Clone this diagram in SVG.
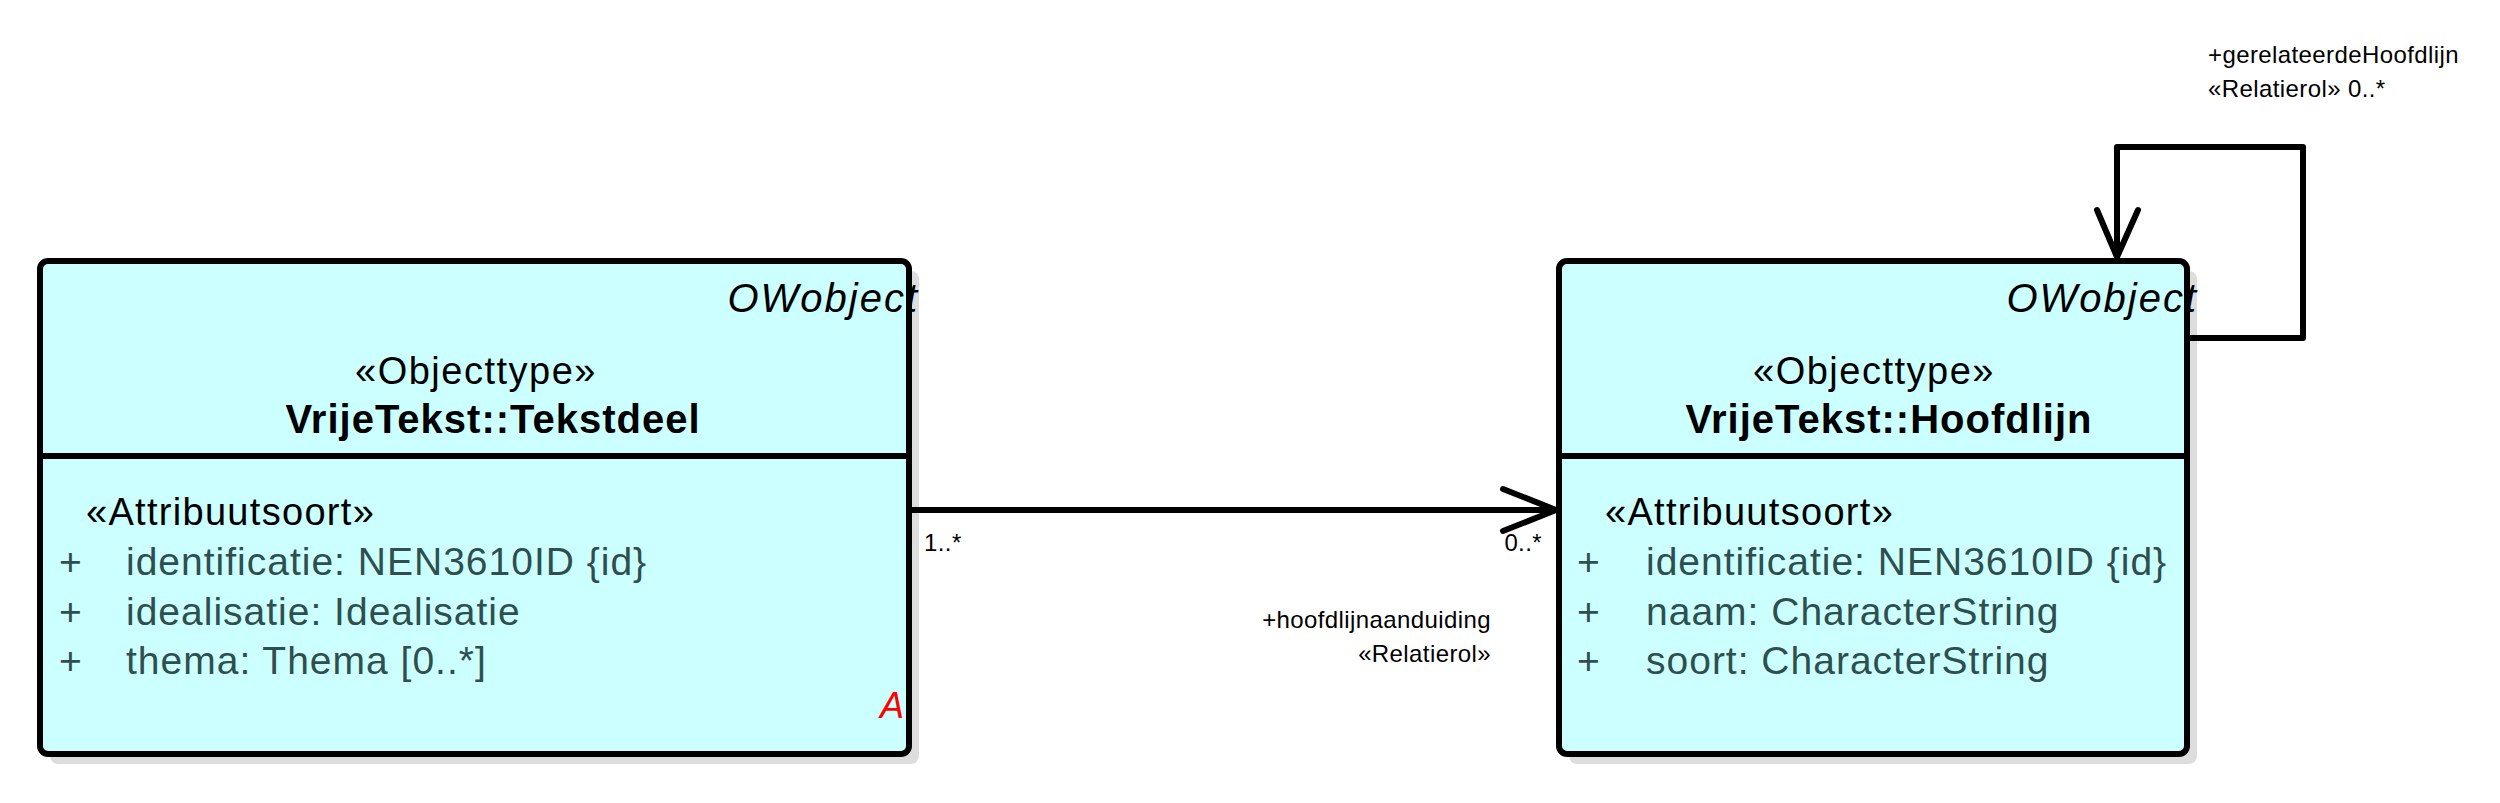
<svg xmlns="http://www.w3.org/2000/svg" width="2500" height="803" viewBox="0 0 2500 803">
<style>
.box{fill:#CCFFFF;stroke:#000;stroke-width:6}
.shadow{fill:#DDDDDD}
.div{stroke:#000;stroke-width:6}
.t{font-family:"Liberation Sans",Arial,sans-serif;fill:#000}
.ow{font-size:40px;font-style:italic;text-anchor:end;letter-spacing:2px}
.st{font-size:38px;text-anchor:middle;letter-spacing:1.5px}
.nm{font-size:40px;font-weight:bold;text-anchor:middle;letter-spacing:1px}
.at{font-size:38px;letter-spacing:1.3px}
.av{font-size:39px;fill:#2F4F4F;letter-spacing:1px}
.sm{font-size:24px;letter-spacing:0.4px}
.end{text-anchor:end}
.ln{fill:none;stroke:#000;stroke-width:6;stroke-linejoin:round;stroke-linecap:round}
</style>
<rect width="2500" height="803" fill="#fff"/>
<g id="tekstdeel">
<rect class="shadow" x="50" y="271" width="869" height="493" rx="8"/>
<rect class="box" x="40" y="261" width="869" height="493" rx="8"/>
<line class="div" x1="40" y1="456" x2="909" y2="456"/>
<text class="t ow" x="919" y="312">OWobject</text>
<text class="t st" x="476" y="384">«Objecttype»</text>
<text class="t nm" x="493" y="433">VrijeTekst::Tekstdeel</text>
<text class="t at" x="86" y="525">«Attribuutsoort»</text>
<text class="t av" x="59" y="575">+</text>
<text class="t av" x="126" y="575">identificatie: NEN3610ID {id}</text>
<text class="t av" x="59" y="625">+</text>
<text class="t av" x="126" y="625">idealisatie: Idealisatie</text>
<text class="t av" x="59" y="674">+</text>
<text class="t av" x="126" y="674">thema: Thema [0..*]</text>
<text class="t" x="904" y="718" font-size="36" font-style="italic" text-anchor="end" style="fill:#FF0000">A</text>
</g>
<g id="hoofdlijn">
<rect class="shadow" x="1569" y="271" width="628" height="493" rx="8"/>
<rect class="box" x="1559" y="261" width="628" height="493" rx="8"/>
<line class="div" x1="1559" y1="456" x2="2187" y2="456"/>
<text class="t ow" x="2198" y="312">OWobject</text>
<text class="t st" x="1874" y="384">«Objecttype»</text>
<text class="t nm" x="1889" y="433">VrijeTekst::Hoofdlijn</text>
<text class="t at" x="1605" y="525">«Attribuutsoort»</text>
<text class="t av" x="1577" y="575">+</text>
<text class="t av" x="1646" y="575">identificatie: NEN3610ID {id}</text>
<text class="t av" x="1577" y="625">+</text>
<text class="t av" x="1646" y="625">naam: CharacterString</text>
<text class="t av" x="1577" y="674">+</text>
<text class="t av" x="1646" y="674">soort: CharacterString</text>
</g>
<g id="connectors">
<line class="ln" x1="912" y1="510" x2="1555" y2="510" stroke-width="5"/>
<polyline class="ln" points="1503,489 1556,510 1503,531"/>
<text class="t sm" x="924" y="551">1..*</text>
<text class="t sm end" x="1542" y="551">0..*</text>
<text class="t sm end" x="1491" y="628">+hoofdlijnaanduiding</text>
<text class="t sm end" x="1491" y="662">«Relatierol»</text>
<polyline class="ln" points="2190,338 2303,338 2303,147 2117,147 2117,256"/>
<polyline class="ln" points="2097,210 2117,257 2138,210"/>
<text class="t sm" x="2208" y="63">+gerelateerdeHoofdlijn</text>
<text class="t sm" x="2208" y="97">«Relatierol» 0..*</text>
</g>
</svg>
